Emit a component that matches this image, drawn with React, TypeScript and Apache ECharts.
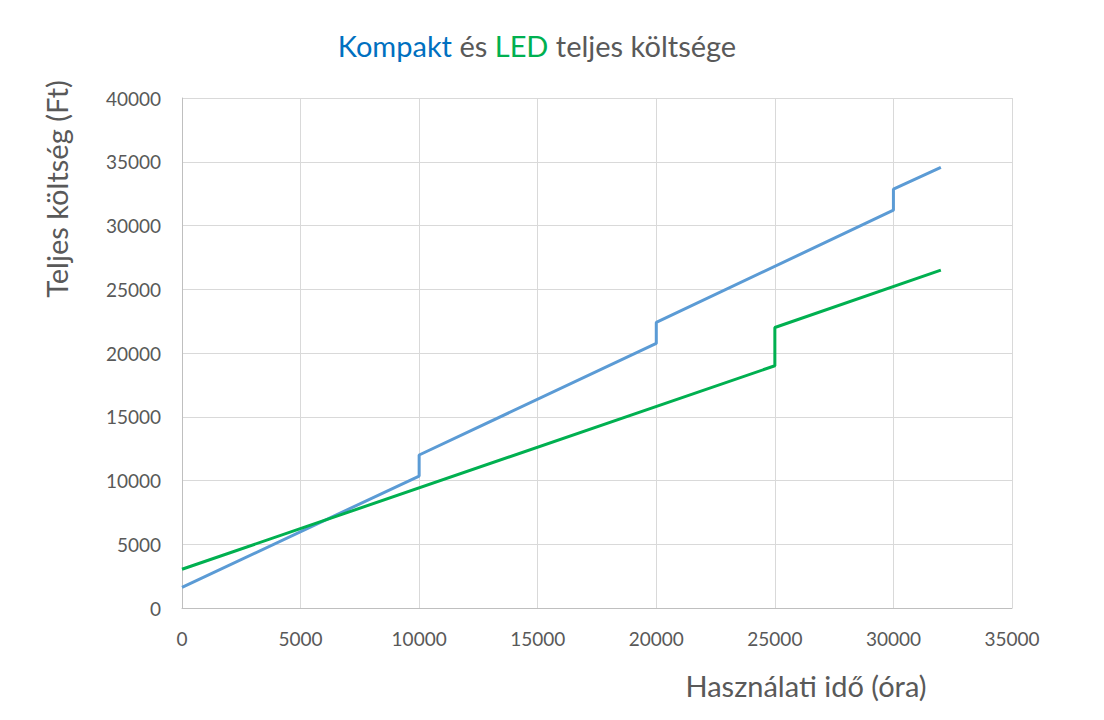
import React from "react";
import * as echarts from "echarts";

const kompaktHours = [0, 10000, 10000, 20000, 20000, 30000, 30000, 32000];
const kompaktCost = [1620, 10350, 12000, 20750, 22400, 31200, 32850, 34550];
const ledHours = [0, 25000, 25000, 32000];
const ledCost = [3040, 19000, 22000, 26500];

const titleParts = ["Kompakt", " és ", "LED", " teljes költsége"];
const yName = "Teljes költség (Ft)";
const xName = "Használati idő (óra)";

const FONT = "Lato, 'Open Sans', sans-serif";
const GREY = "#595959";

const pairs = (xs: number[], ys: number[]) => xs.map((x, i) => [x, ys[i]]);

export default function App() {
  const ref = React.useRef<HTMLDivElement>(null);

  React.useEffect(() => {
    if (!ref.current) return;
    document.body.style.margin = "0";
    const chart = echarts.init(ref.current, null, { renderer: "svg" });

    const option: echarts.EChartsOption = {
      animation: false,
      backgroundColor: "#ffffff",
      textStyle: { fontFamily: FONT },
      title: {
        text: `{b|${titleParts[0]}}{g|${titleParts[1]}}{l|${titleParts[2]}}{g|${titleParts[3]}}`,
        left: 532,
        top: 26,
        textAlign: "center",
        textStyle: {
          fontWeight: "normal",
          rich: {
            b: { color: "#0070C0", fontSize: 29, fontFamily: FONT, fontWeight: "normal" },
            g: { color: GREY, fontSize: 29, fontFamily: FONT, fontWeight: "normal" },
            l: { color: "#00B050", fontSize: 29, fontFamily: FONT, fontWeight: "normal" },
          },
        },
      },
      grid: { left: 182, right: 92, top: 98, bottom: 112 },
      xAxis: {
        type: "value",
        min: 0,
        max: 35000,
        interval: 5000,
        axisLine: { show: true, lineStyle: { color: "#bfbfbf", width: 1 } },
        axisTick: { show: false },
        axisLabel: { color: GREY, fontSize: 19, margin: 21, fontFamily: FONT, formatter: (v: number) => String(v) },
        splitLine: { show: true, lineStyle: { color: "#d9d9d9", width: 1 } },
      },
      yAxis: {
        type: "value",
        min: 0,
        max: 40000,
        interval: 5000,
        axisLine: { show: true, lineStyle: { color: "#bfbfbf", width: 1 } },
        axisTick: { show: false },
        axisLabel: { color: GREY, fontSize: 19, margin: 21, fontFamily: FONT, formatter: (v: number) => String(v) },
        splitLine: { show: true, lineStyle: { color: "#d9d9d9", width: 1 } },
      },
      graphic: [
        {
          type: "text",
          x: 56,
          y: 189,
          rotation: Math.PI / 2,
          style: {
            text: yName,
            fill: GREY,
            font: `29px ${FONT}`,
            textAlign: "center",
            textVerticalAlign: "middle",
          },
        },
        {
          type: "text",
          x: 806,
          y: 685,
          style: {
            text: xName,
            fill: GREY,
            font: `29px ${FONT}`,
            textAlign: "center",
            textVerticalAlign: "middle",
          },
        },
      ],
      series: [
        {
          name: "Kompakt",
          type: "line",
          data: pairs(kompaktHours, kompaktCost),
          showSymbol: false,
          lineStyle: { color: "#5B9BD5", width: 3 },
          itemStyle: { color: "#5B9BD5" },
        },
        {
          name: "LED",
          type: "line",
          data: pairs(ledHours, ledCost),
          showSymbol: false,
          lineStyle: { color: "#00B050", width: 3 },
          itemStyle: { color: "#00B050" },
        },
      ],
    };

    chart.setOption(option);
    return () => chart.dispose();
  }, []);

  return <div ref={ref} style={{ width: 1104, height: 720 }} />;
}
